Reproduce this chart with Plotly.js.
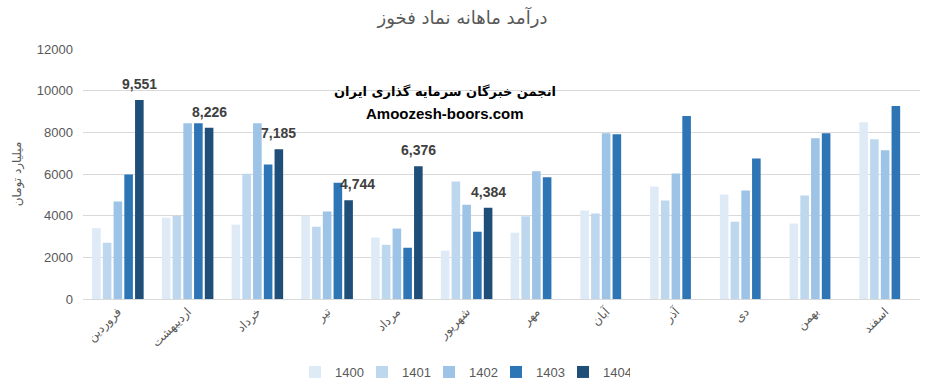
<!DOCTYPE html>
<html><head><meta charset="utf-8">
<script src="https://cdn.plot.ly/plotly-3.0.1.min.js"></script>
<style>html,body{margin:0;padding:0;background:#fff}#chart{width:925px;height:392px}</style>
</head><body><div id="chart"></div>
<script>
const months = ['فروردین','اردیبهشت','خرداد','تیر','مرداد','شهریور','مهر','آبان','آذر','دی','بهمن','اسفند'];
const years = ['1400','1401','1402','1403','1404'];
const v1400 = [3400,3900,3570,4000,2950,2320,3180,4250,5400,5020,3620,8490];
const v1401 = [2700,4000,6010,3470,2600,5640,3970,4100,4730,3710,4970,7670];
const v1402 = [4680,8440,8440,4200,3380,4530,6130,7960,6030,5210,7720,7140];
const v1403 = [5980,8440,6460,5580,2460,3230,5840,7910,8780,6750,7960,9260];
const v1404 = [9551,8226,7185,4744,6376,4384,null,null,null,null,null,null];
const colors = ['#DEEBF7','#BDD7EE','#9DC3E6','#2E75B6','#1F4E79'];
const series = [v1400,v1401,v1402,v1403,v1404];
const titleText = 'درآمد ماهانه نماد فخوز';
const yTitle = 'میلیارد تومان';
const wm1 = 'انجمن خبرگان سرمایه گذاری ایران';
const wm2 = 'Amoozesh-boors.com';
// extra horizontal nudge for labels that were moved aside in the original (style only)
const labelNudge = {3: 9};

const traces = series.map((vals,i)=>({
  type:'bar', name: years[i], x: months, y: vals,
  marker:{color:colors[i]}, hoverinfo:'x+y+name'
}));

const labelAnn = [];
v1404.forEach((v,i)=>{
  if(v!==null){
    labelAnn.push({x: months[i], y: v, xref:'x', yref:'y', text: v.toLocaleString('en-US'),
      showarrow:false, yanchor:'bottom', xshift:21.5 + (labelNudge[i]||0), yshift:6,
      font:{family:'Liberation Sans, Arial, sans-serif', size:14, color:'#404040', weight:'bold'}});
  }
});
labelAnn.push({x:0.4325, y:0.868, xref:'paper', yref:'paper', text:'<b>'+wm1+'</b>', showarrow:false,
  font:{family:'DejaVu Sans, sans-serif', size:13, color:'#000'}});
labelAnn.push({x:0.4325, y:0.784, xref:'paper', yref:'paper', text:'<b>'+wm2+'</b>', showarrow:false,
  font:{family:'Liberation Sans, Arial, sans-serif', size:15, color:'#000'}});

const layout = {
  width:925, height:392,
  margin:{l:83, r:5, t:49, b:93},
  paper_bgcolor:'#fff', plot_bgcolor:'#fff',
  font:{family:'Liberation Sans, DejaVu Sans, sans-serif', color:'#595959', size:13},
  title:{text:titleText, x:0.5, xref:'container', y:0.954, yref:'container', yanchor:'middle', xanchor:'center',
    font:{family:'DejaVu Sans, sans-serif', size:18, color:'#595959'}},
  barmode:'group', bargap:0.23, bargroupgap:0.2,
  xaxis:{type:'category', tickangle:-45, tickfont:{size:12, color:'#595959', family:'DejaVu Sans, sans-serif'},
    showgrid:false, showline:true, linecolor:'#d9d9d9', ticks:'', fixedrange:true},
  yaxis:{range:[0,12000], dtick:2000, tickformat:'d', showgrid:true, gridcolor:'#d9d9d9', gridwidth:1,
    zeroline:true, zerolinecolor:'#d9d9d9', ticklabelstandoff:9,
    tickfont:{size:13, color:'#595959'},
    title:{text:yTitle, standoff:12, font:{family:'DejaVu Sans, sans-serif', size:12, color:'#595959'}}},
  legend:{orientation:'h', xref:'container', yref:'container', x:0.5, xanchor:'center', y:0.051, yanchor:'middle',
    entrywidth:22, entrywidthmode:'pixels',
    font:{size:13, color:'#595959'}, traceorder:'normal'},
  annotations: labelAnn,
  showlegend:true
};
Plotly.newPlot('chart', traces, layout, {displayModeBar:false});
</script></body></html>
